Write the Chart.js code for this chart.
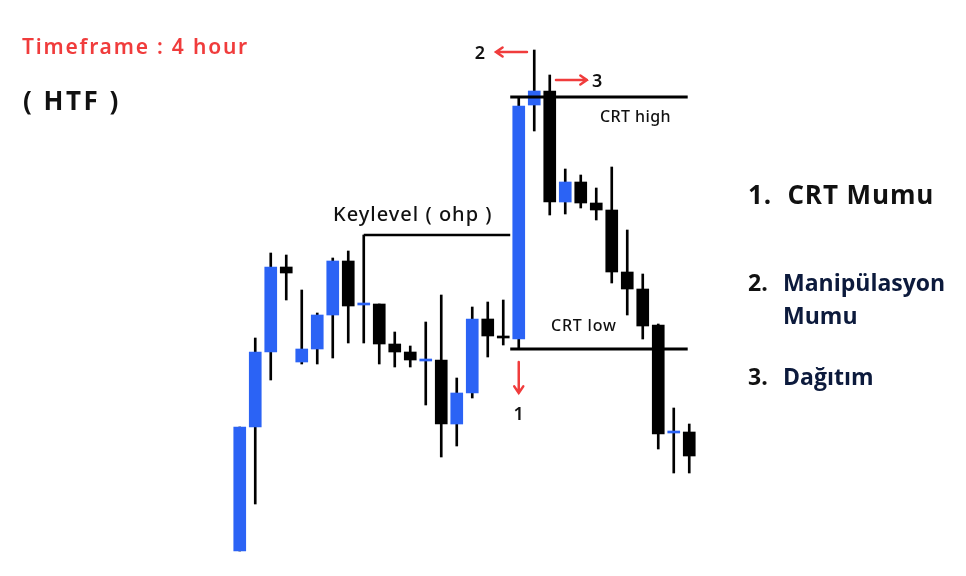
<!DOCTYPE html>
<html>
<head>
<meta charset="utf-8">
<script src="https://cdn.jsdelivr.net/npm/chart.js@4.4.1/dist/chart.umd.min.js"></script>
<style>
  body { margin: 0; background: #fff; }
  #wrap { position: relative; width: 966px; height: 576px; overflow: hidden; }
  #chart { position: absolute; left: 0; top: 0; }
  .txt { position: absolute; white-space: nowrap; line-height: 1; }
  .head { font-family: "Noto Sans", sans-serif; font-weight: 600; }
  .list { font-family: "Open Sans", sans-serif; font-weight: 700; font-size: 23px; }
</style>
</head>
<body>
<div id="wrap">
  <canvas id="chart" width="966" height="576"></canvas>
  <div class="txt head" style="left:22px; top:36px; font-size:21px; letter-spacing:1.8px; color:#f03c3c;">Timeframe : 4 hour</div>
  <div class="txt head" style="left:23px; top:87px; font-size:26px; font-weight:700; letter-spacing:2.5px; color:#111;">( HTF )</div>
  <div class="txt list" style="left:748px; top:181px; font-size:26px; letter-spacing:0.9px; color:#111;">1.&nbsp; CRT Mumu</div>
  <div class="txt list" style="left:748px; top:271px; font-size:23px; color:#111;">2.</div>
  <div class="txt list" style="left:783px; top:271px; font-size:23px; color:#0c1a3c;">Manipülasyon</div>
  <div class="txt list" style="left:783px; top:304px; font-size:23px; color:#0c1a3c;">Mumu</div>
  <div class="txt list" style="left:748px; top:365px; font-size:23px; color:#111;">3.</div>
  <div class="txt list" style="left:783px; top:365px; font-size:23px; color:#0c1a3c;">Dağıtım</div>
</div>
<script>
// mumlar (fiyat birimi keyfi)
const candles = ['1','2','3','4','5','6','7','8','9','10','11','12','13','14','15',
                 '16','17','18','19','20','21','22','23','24','25','26','27','28','29','30'];
const opens  = [25, 149, 224, 309, 214, 227, 261, 315, 271, 272, 232, 224, 215, 216, 152,
                183, 257, 240, 237, 471, 485, 374, 394, 373, 366, 304, 287, 251, 143, 144];
const closes = [149, 224, 309, 303, 227, 261, 315, 270, 273, 232, 224, 216, 217, 152, 183,
                257, 240, 238, 470, 485, 374, 394, 373, 366, 304, 287, 250, 142, 145, 120];
const highs  = [149, 238, 323, 321, 286, 263, 318, 325, 341, 272, 244, 230, 254, 281, 198,
                269, 274, 276, 479, 526, 501, 407, 401, 388, 409, 346, 302, 252, 168, 152];
const lows   = [25, 72, 196, 276, 212, 212, 218, 233, 233, 212, 209, 209, 171, 119, 130,
                178, 219, 231, 227, 445, 361, 362, 368, 356, 293, 261, 237, 127, 103, 103];

// seviyeler
const keyLevel = 341;
const crtHigh = 479;
const crtLow = 227;

const BLUE = '#2b63f5';
const RED = '#f03c3c';

const bodyColors = opens.map((o, i) => closes[i] > o ? BLUE : '#000');

function hLine(ctx, x, y, i1, i2, price, w) {
  ctx.save();
  ctx.strokeStyle = '#000';
  ctx.lineWidth = w;
  ctx.beginPath();
  ctx.moveTo(x.getPixelForValue(i1), y.getPixelForValue(price));
  ctx.lineTo(x.getPixelForValue(i2), y.getPixelForValue(price));
  ctx.stroke();
  ctx.restore();
}

function arrow(ctx, x1, y1, x2, y2) {
  const a = Math.atan2(y2 - y1, x2 - x1);
  const h = 8;
  ctx.save();
  ctx.strokeStyle = RED;
  ctx.lineWidth = 2.5;
  ctx.lineCap = 'round';
  ctx.beginPath();
  ctx.moveTo(x1, y1);
  ctx.lineTo(x2, y2);
  ctx.moveTo(x2 - h * Math.cos(a - 0.6), y2 - h * Math.sin(a - 0.6));
  ctx.lineTo(x2, y2);
  ctx.lineTo(x2 - h * Math.cos(a + 0.6), y2 - h * Math.sin(a + 0.6));
  ctx.stroke();
  ctx.restore();
}

function label(ctx, x, y, i, price, text, size, align, weight, spacing) {
  ctx.save();
  ctx.fillStyle = '#111';
  ctx.font = (weight || 500) + ' ' + size + 'px "Noto Sans", sans-serif';
  ctx.letterSpacing = (spacing || 0) + 'px';
  ctx.textAlign = align || 'left';
  ctx.textBaseline = 'alphabetic';
  ctx.fillText(text, x.getPixelForValue(i), y.getPixelForValue(price));
  ctx.restore();
}

const annotations = {
  id: 'annotations',
  afterDatasetsDraw(chart) {
    const { ctx, scales: { x, y } } = chart;
    hLine(ctx, x, y, 8, 17.45, keyLevel, 2.5);
    hLine(ctx, x, y, 17.45, 28.9, crtHigh, 3);
    hLine(ctx, x, y, 17.45, 28.9, crtLow, 3);

    label(ctx, x, y, 6.02, 355, 'Keylevel ( ohp )', 20, 'left', 500, 1);
    label(ctx, x, y, 23.24, 454, 'CRT high', 16, 'left', 500, 0.4);
    label(ctx, x, y, 20.08, 245, 'CRT low', 16, 'left', 500, 0.8);

    // 2 <-
    arrow(ctx, x.getPixelForValue(18.53), y.getPixelForValue(524), x.getPixelForValue(16.53), y.getPixelForValue(524));
    label(ctx, x, y, 15.5, 517, '2', 18, 'center', 600);
    // -> 3
    arrow(ctx, x.getPixelForValue(20.4), y.getPixelForValue(496), x.getPixelForValue(22.4), y.getPixelForValue(496));
    label(ctx, x, y, 23.05, 489, '3', 18, 'center', 600);
    // 1 (asagi ok)
    arrow(ctx, x.getPixelForValue(18), y.getPixelForValue(214), x.getPixelForValue(18), y.getPixelForValue(183));
    label(ctx, x, y, 18, 156, '1', 18, 'center', 600);
  }
};

new Chart(document.getElementById('chart'), {
  type: 'bar',
  data: {
    labels: candles,
    datasets: [
      {
        label: 'govde',
        data: opens.map((o, i) => [o, closes[i]]),
        backgroundColor: bodyColors,
        barThickness: 12,
        grouped: false,
        order: 0
      },
      {
        label: 'fitil',
        data: highs.map((h, i) => [lows[i], h]),
        backgroundColor: '#000',
        barThickness: 2,
        grouped: false,
        order: 1
      }
    ]
  },
  options: {
    responsive: false,
    animation: false,
    layout: { padding: { left: 232, right: 269, top: 0, bottom: 0 } },
    scales: {
      x: { display: false, offset: true },
      y: { display: false, min: 0, max: 576 }
    },
    plugins: {
      legend: { display: false },
      tooltip: { enabled: false }
    }
  },
  plugins: [annotations]
});
</script>
</body>
</html>
